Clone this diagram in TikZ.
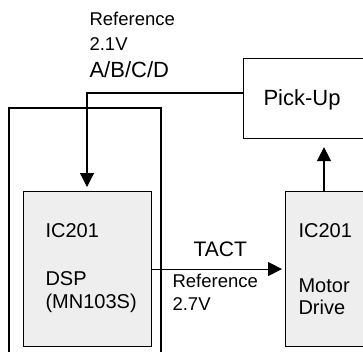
\documentclass[tikz,border=0pt]{standalone}
\usepackage{fontspec}
\setmainfont{Liberation Sans}
\usetikzlibrary{arrows.meta, positioning}

\begin{document}
\begin{tikzpicture}[x=1pt, y=-1pt, line width=1.1pt, >={Triangle[length=14pt, width=14pt]},
		box/.style={draw, rectangle, inner sep=0pt, anchor=north west},
		chip/.style={box, fill=gray!13},
		txt/.style={inner sep=0pt, anchor=base west, font=\fontsize{20}{23}\selectfont},
		small/.style={txt, font=\fontsize{18.5}{21}\selectfont}]
		
		\clip (0,0) rectangle (363,351);
		
		% blocks
		\node[box, minimum width=130, minimum height=80] (pickup) at (243,58) {};
		\node[chip, minimum width=128, minimum height=155] (dsp) at (23,191) {};
		\node[chip, minimum width=100, minimum height=155] (motor) at (285,191) {};
		
		% open frame round the DSP
		\draw (9,360) |- (161,108) -- (161,360);
		
		% texts
		\node[small] (ref1) at (89,25) {Reference};
		\node[small] (volt1) at (89,50) {2.1V};
		\node[txt, font=\fontsize{22}{25}\selectfont] (abcd) at (89,77) {A/B/C/D};
		\node[txt, font=\fontsize{22}{25}\selectfont] (pktxt) at (263,105) {Pick-Up};
		
		\node[txt] (dspic) at (45,237) {IC201};
		\node[txt] (dspname) at (45,285) {DSP};
		\node[txt] (dsptype) at (45,308) {(MN103S)};
		
		\node[txt] (motoric) at (298,237) {IC201};
		\node[txt] (motorname) at (298,292) {Motor};
		\node[txt] (motordrv) at (298,314) {Drive};
		
		\node[txt, font=\fontsize{21}{24}\selectfont] (tact) at (193,256) {TACT};
		\node[small] (ref2) at (172,287) {Reference};
		\node[small] (volt2) at (172,310) {2.7V};
		
		% signals
		\draw[->, shorten >=4pt] ([yshift=-35pt]pickup.north west) -| ([xshift=64pt]dsp.north west);
		\draw[->, shorten >=3pt] (dsp.east) -- (motor.west);
		\draw[->, shorten >=8pt] ([xshift=39pt]motor.north west) -- ([xshift=39pt]motor.north west |- pickup.south);
		
\end{tikzpicture}
\end{document}
